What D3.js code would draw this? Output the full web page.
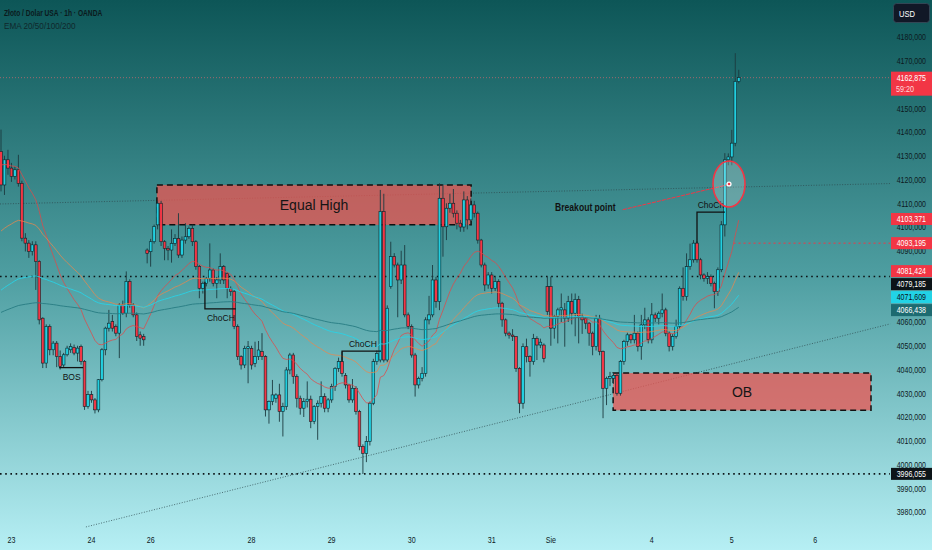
<!DOCTYPE html>
<html><head><meta charset="utf-8">
<script src="https://cdn.jsdelivr.net/npm/d3@7"></script>
<style>html,body{margin:0;padding:0;background:#0f5a5b;}svg{display:block}</style>
</head><body><svg id="c" width="932" height="550"></svg>
<script>
// ---- DATA (XAU/USD 1h) ----
const opens = [4131.8,4117.7,4128.3,4124.8,4121.3,4124.1,4118.4,4095.3,4093.2,4089.7,4092.5,4085.5,4061.6,4042.7,4058.1,4048.3,4051.1,4045.5,4041.9,4046.2,4048.3,4049.3,4046.9,4049.7,4043.4,4024.4,4029.4,4027.2,4023.0,4035.7,4048.3,4057.4,4060.2,4058.1,4055.3,4067.2,4063.7,4077.1,4067.2,4063.0,4054.6,4053.9,
4090.3,4089.6,4093.8,4100.9,4110.0,4093.8,4091.0,4090.3,4093.1,4095.2,4088.2,4094.5,4095.9,4099.4,4093.8,4083.3,4074.2,4076.3,4078.4,4081.9,4076.3,4077.7,4083.3,4080.5,4074.2,4072.8,4058.1,4045.4,4041.9,4048.9,4048.9,4042.6,4045.4,4047.5,4045.4,4023.0,4026.5,4027.9,4029.3,4022.3,4024.4,4039.8,
4046.1,4037.0,4027.9,4023.7,4026.5,4027.5,4018.1,4024.4,4025.8,4028.6,4023.7,4027.2,4032.8,4040.5,4043.3,4037.5,4033.5,4027.2,4032.1,4022.3,4007.6,4004.7,4009.7,4025.8,4043.3,4044.0,4106.5,4044.0,4074.9,4087.5,4084.0,4077.7,4084.0,4063.0,4058.1,4046.1,4033.5,4036.3,4038.4,4060.9,4063.0,4077.7,
4068.6,4112.1,4100.1,4107.9,4110.0,4105.8,4101.6,4100.0,4111.4,4103.0,4109.3,4105.8,4094.5,4084.0,4075.6,4079.8,4074.2,4077.0,4067.9,4060.9,4055.3,4054.5,4053.9,4040.5,4025.8,4049.6,4045.4,4043.3,4053.1,4050.3,4050.3,
4074.9,4074.9,4057.4,4062.3,4065.1,4065.1,4061.6,4068.6,4063.7,4069.5,4062.3,4061.5,4059.5,4055.3,4049.7,4061.6,4047.6,4032.1,4036.3,4036.3,4037.5,4030.0,4043.4,4051.8,4054.6,4052.5,4055.3,4049.7,4058.8,4060.9,4052.5,4063.0,4061.6,4063.7,4065.1,4055.3,4049.7,4053.9,4058.1,4074.2,4070.7,4083.3,4086.2,4093.2,4086.2,4079.8,4078.4,4079.1,4076.3,4072.8,4082.0,4100.9,4128.3,4129.5,4135.3,4161.3];
const highs = [4141.0,4130.0,4132.5,4127.0,4125.5,4130.4,4119.5,4097.4,4094.5,4094.0,4094.0,4086.0,4062.0,4059.0,4059.0,4052.0,4052.0,4048.0,4047.0,4050.0,4051.0,4050.5,4050.0,4050.5,4044.0,4031.0,4031.0,4028.0,4036.0,4049.0,4058.0,4065.1,4063.0,4059.0,4068.0,4069.0,4081.3,4078.0,4068.0,4064.0,4056.0,4055.0,
4091.0,4095.0,4101.0,4111.0,4111.0,4094.5,4092.0,4099.0,4097.0,4105.8,4096.0,4101.6,4100.2,4101.0,4094.5,4084.0,4077.0,4079.0,4093.1,4082.5,4079.0,4088.9,4084.0,4081.0,4075.0,4073.5,4059.0,4046.0,4050.0,4052.0,4050.0,4051.7,4052.0,4055.3,4046.0,4027.0,4035.6,4030.0,4034.0,4026.0,4041.0,4047.0,
4047.0,4038.0,4029.0,4028.0,4035.0,4029.0,4025.0,4027.0,4035.0,4030.0,4028.0,4034.0,4041.0,4045.0,4047.5,4038.5,4034.0,4036.0,4033.0,4023.0,4008.5,4012.0,4026.5,4044.5,4048.0,4115.6,4114.0,4067.0,4093.8,4089.0,4085.0,4090.0,4092.4,4064.0,4059.0,4047.0,4037.0,4041.0,4062.0,4071.0,4084.0,4079.0,
4118.4,4118.0,4110.0,4114.0,4116.0,4107.0,4103.0,4115.0,4113.0,4112.0,4111.0,4106.5,4095.0,4085.0,4081.0,4081.0,4079.1,4078.0,4068.5,4061.5,4056.0,4057.0,4054.0,4041.0,4051.0,4053.0,4046.0,4055.0,4054.0,4053.0,4051.0,
4079.1,4079.1,4063.0,4066.0,4072.0,4068.0,4071.0,4072.0,4072.0,4071.0,4063.5,4062.0,4060.0,4056.0,4063.0,4063.0,4048.0,4037.0,4039.0,4038.5,4038.4,4044.0,4052.5,4055.5,4055.0,4063.0,4056.0,4063.0,4066.0,4062.0,4068.0,4064.0,4064.5,4072.0,4066.0,4056.0,4055.0,4061.0,4075.0,4083.0,4088.9,4093.0,4094.5,4094.0,4087.0,4080.5,4081.0,4080.0,4077.0,4083.0,4102.5,4131.1,4131.0,4140.9,4173.2,4166.2];
const lows = [4115.0,4113.5,4122.0,4119.0,4120.0,4117.0,4094.0,4089.7,4087.0,4088.0,4073.5,4059.0,4040.6,4040.6,4046.0,4046.0,4041.0,4040.0,4041.0,4045.5,4047.0,4046.0,4043.4,4042.0,4023.0,4023.5,4026.0,4021.5,4022.0,4035.0,4046.0,4056.0,4056.0,4054.0,4044.8,4063.0,4062.0,4066.0,4062.0,4052.0,4050.0,4050.0,
4084.7,4083.3,4093.0,4099.0,4092.0,4086.0,4086.0,4085.0,4092.0,4087.0,4087.0,4093.0,4095.0,4092.0,4082.0,4070.0,4072.0,4075.0,4077.0,4075.0,4070.0,4076.0,4076.0,4070.0,4071.0,4057.0,4044.0,4040.0,4040.6,4034.2,4040.0,4041.0,4044.0,4044.0,4020.2,4017.2,4025.0,4026.0,4018.0,4011.8,4023.0,4038.0,
4034.0,4024.0,4021.0,4020.0,4024.0,4015.3,4017.0,4010.4,4024.0,4022.0,4022.0,4026.0,4031.0,4039.0,4037.0,4032.0,4026.0,4026.0,4021.0,4006.0,3996.0,4001.0,4008.0,4025.0,4042.0,4043.0,4043.0,4043.0,4074.0,4083.0,4062.0,4076.0,4062.0,4057.0,4045.0,4028.6,4032.0,4035.0,4037.0,4059.0,4062.0,4066.0,
4065.0,4087.5,4094.5,4106.0,4104.0,4099.0,4098.0,4098.0,4099.0,4101.0,4104.0,4093.0,4083.0,4073.0,4074.0,4072.0,4073.0,4066.0,4058.0,4054.0,4053.0,4052.0,4039.0,4021.6,4023.5,4043.0,4037.0,4042.0,4044.0,4049.0,4043.0,
4063.0,4050.0,4053.0,4051.0,4060.0,4049.6,4060.0,4059.0,4054.0,4051.0,4055.0,4057.0,4050.0,4046.0,4048.0,4046.0,4019.5,4025.0,4033.0,4034.0,4029.0,4029.0,4042.0,4050.0,4051.0,4051.0,4047.6,4044.1,4057.0,4051.0,4051.0,4060.0,4059.0,4062.0,4054.0,4047.6,4048.0,4053.0,4057.0,4069.0,4069.0,4082.0,4085.0,4085.0,4078.0,4077.0,4076.0,4075.0,4065.8,4071.0,4081.0,4096.0,4126.0,4126.0,4134.0,4160.5];
const closes = [4117.7,4128.3,4124.8,4121.3,4124.1,4118.4,4095.3,4093.2,4089.7,4092.5,4085.5,4060.9,4042.7,4058.1,4048.3,4051.1,4045.5,4041.3,4046.2,4049.0,4049.7,4046.9,4049.0,4043.4,4024.4,4029.4,4027.2,4023.0,4035.7,4048.3,4057.4,4059.5,4057.4,4055.3,4067.2,4063.7,4077.1,4067.2,4063.0,4053.9,4053.2,4052.5,
4088.9,4093.8,4100.2,4110.0,4093.8,4091.0,4090.3,4093.1,4095.2,4088.2,4094.5,4095.9,4099.4,4093.8,4083.3,4074.2,4076.3,4078.4,4081.9,4076.3,4077.7,4083.3,4077.7,4074.2,4072.8,4058.1,4045.4,4041.9,4048.9,4049.6,4041.9,4045.4,4048.2,4045.4,4023.0,4026.5,4029.3,4029.3,4022.3,4024.4,4039.8,4046.1,
4037.0,4027.9,4023.7,4026.5,4027.5,4018.1,4024.4,4025.8,4028.6,4023.7,4027.2,4032.8,4040.5,4043.3,4038.4,4033.5,4027.2,4032.1,4022.3,4007.6,4004.7,4009.7,4025.8,4043.3,4046.8,4106.5,4044.0,4065.8,4087.5,4084.0,4077.7,4084.0,4063.0,4058.1,4046.1,4033.5,4036.3,4038.4,4060.9,4063.0,4077.7,4068.6,
4112.1,4100.1,4107.9,4110.0,4105.8,4101.6,4100.0,4111.4,4103.0,4109.3,4105.8,4094.5,4084.0,4075.6,4079.8,4074.2,4077.0,4067.9,4060.9,4055.3,4054.5,4053.9,4040.5,4025.8,4049.6,4045.4,4043.3,4053.1,4050.3,4051.5,4044.7,
4064.4,4057.4,4062.3,4065.1,4066.0,4061.6,4068.6,4063.7,4069.5,4062.3,4060.9,4059.5,4055.3,4049.7,4061.6,4047.6,4032.1,4036.3,4037.0,4037.5,4030.0,4043.4,4051.8,4054.6,4052.5,4055.3,4049.7,4058.8,4060.9,4052.5,4063.0,4061.6,4063.7,4065.1,4055.3,4049.7,4053.9,4058.1,4074.2,4070.7,4083.3,4086.2,4093.2,4086.2,4079.8,4078.4,4079.1,4076.3,4072.8,4082.0,4100.9,4128.3,4129.5,4135.3,4161.3,4162.875];

const emaPeriods = [20, 50, 100, 200];
const emaSeeds = [4127, 4097.5, 4072.5, 4063.5];   // EMA values just before first visible bar

const dayTickIndex = [3, 26, 43, 72, 95, 118, 141, 158, 187, 210, 234];
const dayTickLabel = ["23", "24", "26", "28", "29", "30", "31", "Sie", "4", "5", "6"];
const priceTicks = d3.range(3980, 4181, 10);

const markerValues = [4103.371, 4093.195, 4081.424, 4079.185, 4071.609, 4066.438, 3996.055];
const markerKinds = ["red", "red", "red", "black", "cyan", "teal", "black"];
const countdown = "59:20";

// ---- SCALES ----
const svg = d3.select("#c");
const W = 932, H = 550;
const x = d3.scaleLinear().domain([0, 212]).range([1, 738.76]);
const y = d3.scaleLinear().domain([3980, 4180]).range([512, 37]);
const fmt = v => v.toFixed(3).replace(".", ",");
const FONT = "'Liberation Sans',Arial,sans-serif";
// condensed text: drawn through a horizontal scale transform around its anchor
function ctext(parent, tx, ty, str, o) {
  const gg = parent.append("g").attr("transform", `translate(${tx},${ty}) scale(${o.sx || 0.75},1)`);
  return gg.append("text").attr("x", 0).attr("y", 0).attr("text-anchor", o.anchor || "start")
    .attr("font-family", FONT).attr("font-size", o.size || 9.5).attr("font-weight", o.weight || 400)
    .attr("fill", o.fill || "#0c1a1e").text(str);
}

// background
const defs = svg.append("defs");
const g = defs.append("linearGradient").attr("id", "bg").attr("x1", 0).attr("y1", 0).attr("x2", 0).attr("y2", 1);
g.append("stop").attr("offset", "0%").attr("stop-color", "#0d5657");
g.append("stop").attr("offset", "50%").attr("stop-color", "#4e9ea1");
g.append("stop").attr("offset", "100%").attr("stop-color", "#b6eff4");
svg.append("rect").attr("width", W).attr("height", H).attr("fill", "url(#bg)");

const plot = svg.append("g");
const xr = 890;

// horizontal dotted levels
const lastClose = closes[closes.length - 1];
plot.append("line").attr("x1", 0).attr("x2", xr).attr("y1", y(lastClose)).attr("y2", y(lastClose))
  .attr("stroke", "#c96a70").attr("stroke-width", 1).attr("stroke-dasharray", "1,2").attr("opacity", 0.75);
plot.append("line").attr("x1", x(210.5)).attr("x2", xr).attr("y1", y(markerValues[1])).attr("y2", y(markerValues[1]))
  .attr("stroke", "#f23645").attr("stroke-width", 1).attr("stroke-dasharray", "2,3");
[markerValues[3], markerValues[6]].forEach(v => {
  plot.append("line").attr("x1", 0).attr("x2", xr).attr("y1", y(v)).attr("y2", y(v))
    .attr("stroke", "#0d1417").attr("stroke-width", 1.6).attr("stroke-dasharray", "1.6,3.6");
});

// trend lines
const trendUpper = [[-0.3, 4109.7], [255.5, 4118.3]];
const trendLower = [[24.4, 3973.7], [255.5, 4059.2]];
[trendUpper, trendLower].forEach(t => {
  plot.append("line").attr("x1", x(t[0][0])).attr("y1", y(t[0][1])).attr("x2", x(t[1][0])).attr("y2", y(t[1][1]))
    .attr("stroke", "#2d4a4f").attr("stroke-width", 1).attr("stroke-dasharray", "1,1.6").attr("opacity", 0.75);
});

// zones
const zones = [
  { i0: 44.8, i1: 135.1, p0: 4117.7, p1: 4100.9, label: "Equal High" },
  { i0: 175.9, i1: 250.0, p0: 4038.5, p1: 4022.8, label: "OB" }
];
zones.forEach(z => {
  plot.append("rect").attr("x", x(z.i0)).attr("y", y(z.p0)).attr("width", x(z.i1) - x(z.i0)).attr("height", y(z.p1) - y(z.p0))
    .attr("fill", "#ef5350").attr("fill-opacity", 0.74).attr("stroke", "#111").attr("stroke-width", 1.5).attr("stroke-dasharray", "6,4");
});

// candles
const idx = d3.range(closes.length);
const cg = plot.append("g");
cg.selectAll("line.w").data(idx).join("line")
  .attr("x1", i => x(i)).attr("x2", i => x(i)).attr("y1", i => y(highs[i])).attr("y2", i => y(lows[i]))
  .attr("stroke", "#1c3a40").attr("stroke-width", 0.9);
cg.selectAll("rect.b").data(idx).join("rect")
  .attr("x", i => x(i) - 1.35).attr("width", 2.7)
  .attr("y", i => y(Math.max(opens[i], closes[i])))
  .attr("height", i => Math.max(0.8, Math.abs(y(opens[i]) - y(closes[i]))))
  .attr("fill", i => closes[i] >= opens[i] ? "#22cfe0" : "#f23645")
  .attr("stroke", "#0b2429").attr("stroke-width", 0.6);

// EMAs
const emaStyle = [
  { c: "#e04848", o: 0.75 }, { c: "#e8874e", o: 0.75 }, { c: "#27d4e8", o: 0.85 }, { c: "#2a7e85", o: 0.95 }
];
emaPeriods.forEach((n, k) => {
  const a = 2 / (n + 1);
  let e = emaSeeds[k];
  const pts = closes.map((c, i) => { e = e + a * (c - e); return [x(i), y(e)]; });
  plot.append("path").attr("d", d3.line()(pts)).attr("fill", "none")
    .attr("stroke", emaStyle[k].c).attr("stroke-opacity", emaStyle[k].o).attr("stroke-width", 1);
});

// zone labels
zones.forEach(z => {
  plot.append("text").attr("x", x((z.i0 + z.i1) / 2)).attr("y", y((z.p0 + z.p1) / 2) + 5)
    .attr("text-anchor", "middle").attr("font-family", FONT).attr("font-size", 14).attr("fill", "#151515").text(z.label);
});

// structure brackets
const brackets = [
  { pts: [[16.7, 4040.8], [23.6, 4040.8]], tx: 20.3, ty: 4040.8, dy: 12, label: "BOS" },
  { pts: [[58.6, 4076.9], [58.6, 4065.5], [67.5, 4065.5]], tx: 63.2, ty: 4065.5, dy: 12, label: "ChoCH" },
  { pts: [[98.0, 4043.4], [98.0, 4047.7], [109.2, 4047.7]], tx: 104.0, ty: 4047.7, dy: -4, label: "ChoCH" },
  { pts: [[200.0, 4093.3], [200.0, 4106.3], [208.0, 4106.3]], tx: 204.0, ty: 4106.3, dy: -4, label: "ChoCh" }
];
brackets.forEach(b => {
  plot.append("path").attr("d", d3.line()(b.pts.map(p => [x(p[0]), y(p[1])]))).attr("fill", "none")
    .attr("stroke", "#111").attr("stroke-width", 1.3);
  plot.append("text").attr("x", x(b.tx)).attr("y", y(b.ty) + b.dy).attr("text-anchor", "middle")
    .attr("font-family", FONT).attr("font-size", 8.5).attr("fill", "#111").text(b.label);
});

// breakout
const brk = { ti: 159.2, tp: 4106.8, l0: [178.7, 4107.3], l1: [208.6, 4117.7], c: [209.2, 4118.1] };
ctext(plot, x(brk.ti), y(brk.tp), "Breakout point", { size: 10, weight: 700, fill: "#111", sx: 0.86 });
plot.append("line").attr("x1", x(brk.l0[0])).attr("y1", y(brk.l0[1])).attr("x2", x(brk.l1[0])).attr("y2", y(brk.l1[1]))
  .attr("stroke", "#f23645").attr("stroke-width", 1).attr("stroke-dasharray", "4,1");
plot.append("ellipse").attr("cx", x(brk.c[0])).attr("cy", y(brk.c[1])).attr("rx", 16).attr("ry", 23)
  .attr("fill", "#ffffff").attr("fill-opacity", 0.22).attr("stroke", "#f23645").attr("stroke-width", 1.6);
plot.append("circle").attr("cx", x(brk.c[0])).attr("cy", y(brk.c[1])).attr("r", 2.6).attr("fill", "#fff");
plot.append("circle").attr("cx", x(brk.c[0])).attr("cy", y(brk.c[1])).attr("r", 1.3).attr("fill", "#f23645");

// price markers layout (stacked)
const order = d3.range(markerValues.length).sort((a, b) => markerValues[b] - markerValues[a]);
let prev = -1e9;
const markerY = [];
order.forEach(k => { const cy = Math.max(y(markerValues[k]), prev + 13); prev = cy; markerY[k] = cy; });
const ly = y(lastClose);
const covered = t => {
  const ty = y(t);
  if (ty > ly - 8 && ty < ly + 20) return true;
  return markerY.some(cy => Math.abs(cy - ty) < 5);
};

// price axis ticks
const axG = svg.append("g");
priceTicks.filter(t => !covered(t)).forEach(t => {
  ctext(axG, 926, y(t) + 3.3, fmt(t), { anchor: "end", size: 9.5, sx: 0.74, fill: "#0c1a1e" });
});

// time axis
const taG = svg.append("g");
dayTickIndex.forEach((i, k) => {
  ctext(taG, x(i), 543, dayTickLabel[k], { anchor: "middle", size: 9.5, sx: 0.75, fill: "#0c1a1e" });
});

// price markers
const kindStyle = {
  red: { f: "#f23645", t: "#fff" }, black: { f: "#0c1418", t: "#fff" },
  cyan: { f: "#22d3e6", t: "#0c1418" }, teal: { f: "#1d6b71", t: "#fff" }
};
const mg = svg.append("g");
order.forEach(k => {
  const cy = markerY[k];
  const st = kindStyle[markerKinds[k]];
  mg.append("rect").attr("x", 891).attr("y", cy - 6).attr("width", 41).attr("height", 12).attr("fill", st.f);
  ctext(mg, 926, cy + 3.3, fmt(markerValues[k]), { anchor: "end", size: 9.5, sx: 0.74, fill: st.t });
});
// last price
mg.append("rect").attr("x", 891).attr("y", ly - 6).attr("width", 41).attr("height", 24).attr("fill", "#f23645");
ctext(mg, 926, ly + 3.3, fmt(lastClose), { anchor: "end", size: 9.5, sx: 0.74, fill: "#fff" });
ctext(mg, 896, ly + 14.5, countdown, { size: 9, sx: 0.8, fill: "#ffd9dc" });

// USD box
svg.append("rect").attr("x", 893.5).attr("y", 3.5).attr("width", 36).attr("height", 19).attr("rx", 3)
  .attr("fill", "#111827").attr("stroke", "#3b4a5a").attr("stroke-width", 0.8);
ctext(svg, 899, 16.5, "USD", { size: 9.5, sx: 0.8, fill: "#fff" });

// header
ctext(svg, 4, 15.5, "Złoto / Dolar USA · 1h · OANDA", { size: 9.5, weight: 700, sx: 0.7, fill: "#0b1a1d" });
ctext(svg, 4, 29, "EMA 20/50/100/200", { size: 9.5, sx: 0.86, fill: "#10282c" });
</script></body></html>
